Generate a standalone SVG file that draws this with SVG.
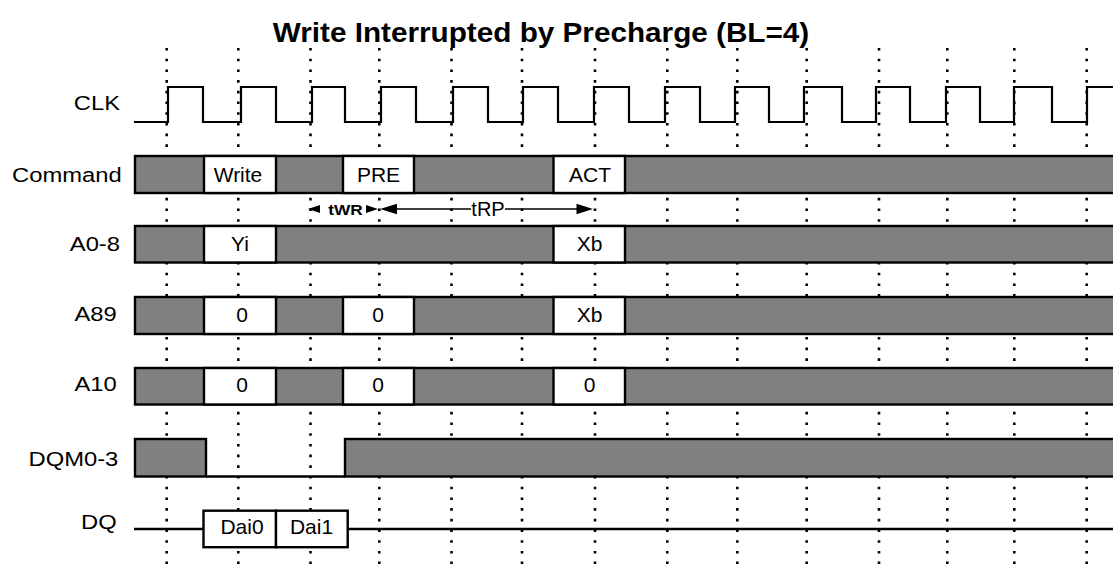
<svg xmlns="http://www.w3.org/2000/svg" width="1113" height="564" viewBox="0 0 1113 564">
<style>
.lbl{font-family:"Liberation Sans",Arial,sans-serif;font-size:20.5px;fill:#000;text-anchor:end}
.in{font-family:"Liberation Sans",Arial,sans-serif;font-size:21px;fill:#000;text-anchor:middle}
.dot{stroke:#000;stroke-width:2.6;stroke-dasharray:2.6 8.1;fill:none}
.bus{fill:#808080;stroke:#000;stroke-width:2.4}
.box{fill:#fff;stroke:#000;stroke-width:2.4}
.wire{fill:none;stroke:#000;stroke-width:2.2}
.arr{stroke:#000;stroke-width:1.6;fill:none}
.head{fill:#000}
</style>
<rect width="1113" height="564" fill="#fff"/>
<text x="0" y="0" transform="translate(541,42) scale(1.1,1)" style="font-family:'Liberation Sans',Arial,sans-serif;font-size:27px;font-weight:bold;text-anchor:middle">Write Interrupted by Precharge (BL=4)</text>
<g id="grid">
<line class="dot" x1="166.7" y1="48" x2="166.7" y2="564"/>
<line class="dot" x1="238.3" y1="48" x2="238.3" y2="564"/>
<line class="dot" x1="310.5" y1="48" x2="310.5" y2="564"/>
<line class="dot" x1="379.3" y1="48" x2="379.3" y2="564"/>
<line class="dot" x1="451.5" y1="48" x2="451.5" y2="564"/>
<line class="dot" x1="522" y1="48" x2="522" y2="564"/>
<line class="dot" x1="595" y1="48" x2="595" y2="564"/>
<line class="dot" x1="667.3" y1="48" x2="667.3" y2="564"/>
<line class="dot" x1="737.3" y1="48" x2="737.3" y2="564"/>
<line class="dot" x1="806.7" y1="48" x2="806.7" y2="564"/>
<line class="dot" x1="879" y1="48" x2="879" y2="564"/>
<line class="dot" x1="947.3" y1="48" x2="947.3" y2="564"/>
<line class="dot" x1="1014.3" y1="48" x2="1014.3" y2="564"/>
<line class="dot" x1="1086.7" y1="48" x2="1086.7" y2="564"/>
</g>
<g id="clk">
<text class="lbl" transform="translate(120,110) scale(1.16,1)">CLK</text>
<path class="wire" d="M134,122 H168 V87 H203 V122 H241 V87 H276 V122 H312 V87 H345 V122 H381 V87 H416 V122 H453 V87 H488 V122 H523 V87 H558 V122 H594 V87 H629 V122 H665 V87 H700 V122 H735 V87 H769 V122 H804 V87 H842 V122 H876 V87 H910 V122 H946 V87 H980 V122 H1014 V87 H1052 V122 H1087 V87 H1115"/>
</g>
<g id="command">
<text class="lbl" transform="translate(121.7,181.5) scale(1.16,1)">Command</text>
<rect class="bus" x="135" y="156" width="1000" height="37"/>
<rect class="box" x="204" y="156" width="72" height="37"/>
<rect class="box" x="343" y="156" width="71" height="37"/>
<rect class="box" x="553.5" y="156" width="71.5" height="37"/>
<text class="in" x="238" y="181.5">Write</text>
<text class="in" x="378.5" y="181.5">PRE</text>
<text class="in" x="590" y="181.5">ACT</text>
</g>
<g id="a0-8">
<text class="lbl" transform="translate(120,251) scale(1.16,1)">A0-8</text>
<rect class="bus" x="135" y="226" width="1000" height="36.5"/>
<rect class="box" x="204" y="226" width="72" height="36.5"/>
<rect class="box" x="553.5" y="226" width="71.5" height="36.5"/>
<text class="in" x="240" y="251">Yi</text>
<text class="in" x="589.5" y="251">Xb</text>
</g>
<g id="a89">
<text class="lbl" transform="translate(116.7,321) scale(1.16,1)">A89</text>
<rect class="bus" x="135" y="297" width="1000" height="37"/>
<rect class="box" x="204" y="297" width="72" height="37"/>
<rect class="box" x="343" y="297" width="71" height="37"/>
<rect class="box" x="553.5" y="297" width="71.5" height="37"/>
<text class="in" x="242" y="322">0</text>
<text class="in" x="378" y="322">0</text>
<text class="in" x="589.5" y="322">Xb</text>
</g>
<g id="a10">
<text class="lbl" transform="translate(116.7,391) scale(1.16,1)">A10</text>
<rect class="bus" x="135" y="368" width="1000" height="36.5"/>
<rect class="box" x="204" y="368" width="72" height="36.5"/>
<rect class="box" x="343" y="368" width="71" height="36.5"/>
<rect class="box" x="553.5" y="368" width="71.5" height="36.5"/>
<text class="in" x="242" y="392">0</text>
<text class="in" x="378" y="392">0</text>
<text class="in" x="589.5" y="392">0</text>
</g>
<g id="dqm0-3">
<text class="lbl" transform="translate(118.3,465.5) scale(1.16,1)">DQM0-3</text>
<rect class="bus" x="135" y="439" width="71" height="37.5"/>
<line class="wire" x1="206" y1="476.5" x2="345" y2="476.5" style="stroke-width:2.4"/>
<rect class="bus" x="345" y="439" width="790" height="37.5"/>
</g>
<g id="dq">
<text class="lbl" transform="translate(116.7,529) scale(1.16,1)">DQ</text>
<line class="wire" x1="134" y1="529" x2="203" y2="529" style="stroke-width:2.4"/>
<line class="wire" x1="348" y1="529" x2="1115" y2="529" style="stroke-width:2.4"/>
<rect class="box" x="203.5" y="510.7" width="72.5" height="36.5"/>
<rect class="box" x="276" y="510.7" width="71.7" height="36.5"/>
<text class="in" x="242" y="534">Dai0</text>
<text class="in" x="311.5" y="534">Dai1</text>
</g>
<g id="connectors">
<g id="tWR">
<polygon class="head" points="308,209 320,205 320,213"/>
<polygon class="head" points="378,209 366,205 366,213"/>
<text transform="translate(345.5,214.5) scale(1.15,1)" style="font-family:'Liberation Sans',Arial,sans-serif;font-size:15px;font-weight:bold;text-anchor:middle">tWR</text>
</g>
<g id="tRP">
<polygon class="head" points="380,209 397,203.8 397,214.2"/>
<line class="arr" x1="396" y1="209" x2="471" y2="209"/>
<text x="488" y="215.5" style="font-family:'Liberation Sans',Arial,sans-serif;font-size:20px;text-anchor:middle">tRP</text>
<line class="arr" x1="505" y1="209" x2="578" y2="209"/>
<polygon class="head" points="593,209 576.5,203.8 576.5,214.2"/>
</g>
</g>
</svg>
